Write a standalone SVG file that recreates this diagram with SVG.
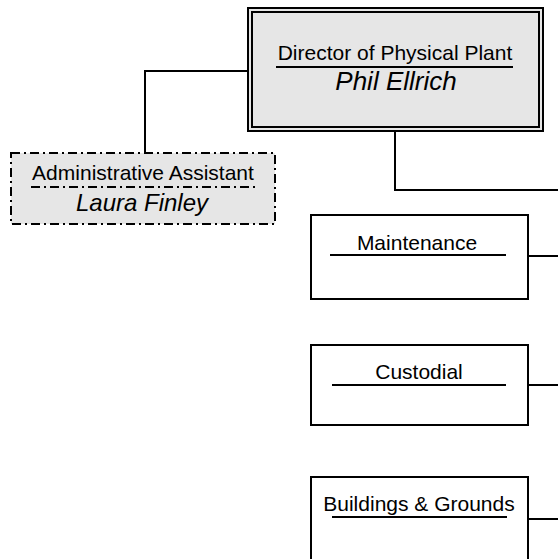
<svg xmlns="http://www.w3.org/2000/svg" width="558" height="559" viewBox="0 0 558 559">
<style>
.t{font-family:"Liberation Sans",Arial,sans-serif;font-size:21px;fill:#000;text-anchor:middle}
.n{font-family:"Liberation Sans",Arial,sans-serif;font-size:24px;font-style:italic;fill:#000;text-anchor:middle}
.box{fill:#fff;stroke:#000;stroke-width:2}
.gray{fill:#e6e6e6;stroke:#000;stroke-width:2}
.dd{stroke-dasharray:9 4 2 4}
.ul{stroke:#000;stroke-width:2}
.c{fill:none;stroke:#000;stroke-width:2}
</style>
<rect width="558" height="559" fill="#fff"/>
<g id="connectors">
<polyline class="c" points="248,71 145,71 145,153"/>
<polyline class="c" points="395,131 395,190 558,190"/>
<line class="c" x1="528" y1="256" x2="558" y2="256"/>
<line class="c" x1="528" y1="385" x2="558" y2="385"/>
<line class="c" x1="528" y1="519" x2="558" y2="519"/>
</g>
<g id="director">
<rect class="gray" x="248" y="8" width="295" height="123"/>
<rect fill="none" stroke="#000" stroke-width="2" x="252" y="12" width="287" height="115"/>
<text class="t" x="395" y="60">Director of Physical Plant</text>
<line class="ul" x1="276" y1="67" x2="513" y2="67"/>
<text class="n" x="396" y="90" style="font-size:26px">Phil Ellrich</text>
</g>
<g id="admin">
<rect class="gray dd" x="11" y="153" width="264" height="71"/>
<text class="t" x="143" y="180">Administrative Assistant</text>
<line class="ul dd" x1="31" y1="187" x2="255" y2="187"/>
<text class="n" x="142" y="211">Laura Finley</text>
</g>
<g id="maintenance">
<rect class="box" x="311" y="215" width="217" height="84"/>
<text class="t" x="417" y="250">Maintenance</text>
<line class="ul" x1="330" y1="255" x2="506" y2="255"/>
</g>
<g id="custodial">
<rect class="box" x="311" y="345" width="217" height="80"/>
<text class="t" x="419" y="379">Custodial</text>
<line class="ul" x1="332" y1="385" x2="506" y2="385"/>
</g>
<g id="buildings">
<rect class="box" x="311" y="477" width="217" height="90"/>
<text class="t" x="419" y="511">Buildings &amp; Grounds</text>
<line class="ul" x1="332" y1="517" x2="507" y2="517"/>
</g>
</svg>
